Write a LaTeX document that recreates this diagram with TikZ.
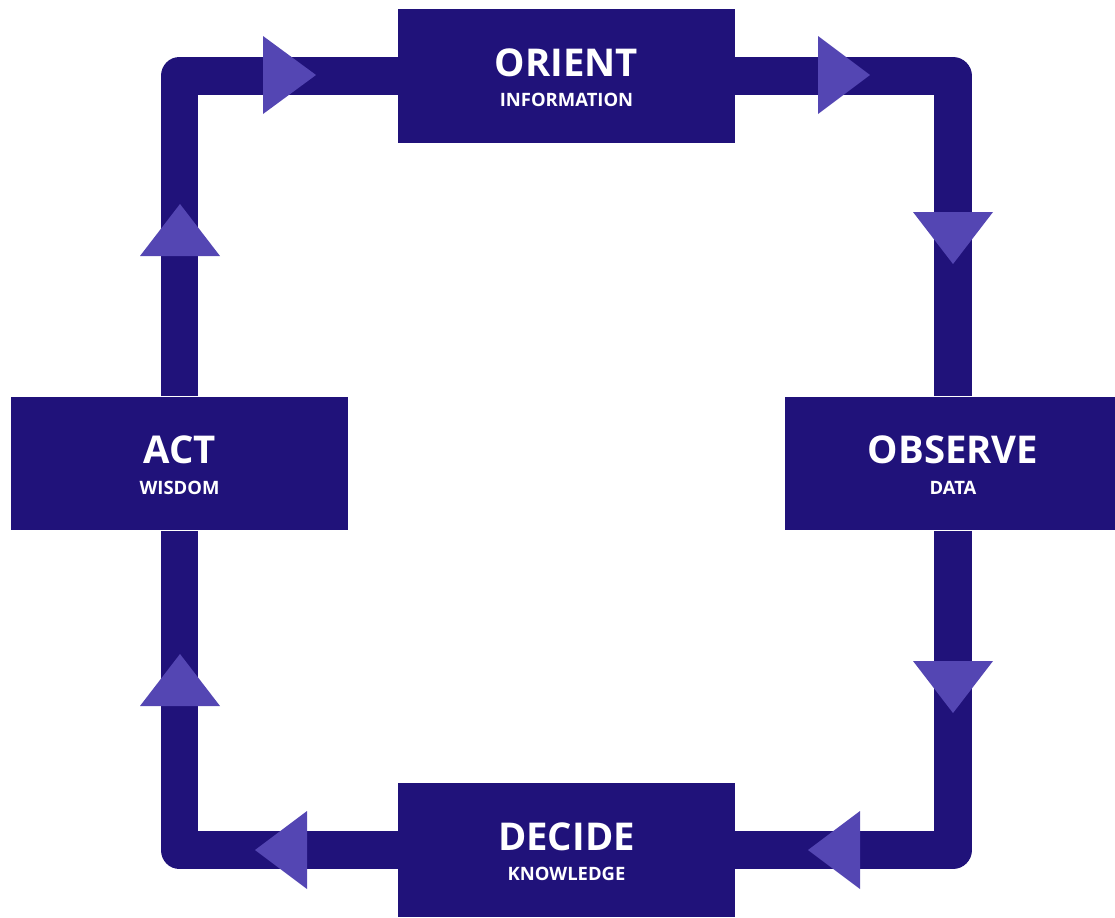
\documentclass[tikz,border=0pt]{standalone}
\usepackage{fontspec}
\setmainfont{Open Sans}
\usepackage{tikz}
\usetikzlibrary{positioning, backgrounds}
\definecolor{loopnavy}{HTML}{20127A}
\definecolor{tipviolet}{HTML}{5446B3}

\begin{document}
\begin{tikzpicture}[x=0.02cm, y=-0.02cm,
    stage/.style={fill=loopnavy, text=white, minimum width=6.74cm, minimum height=2.68cm, align=center, inner sep=0pt, font=\bfseries},
    loop/.style={draw=loopnavy, line width=0.76cm, line join=round},
    tip/.style={fill=tipviolet}
]
\useasboundingbox (0,0) rectangle (1115,917);

% Stages
\node[stage] (orient) at (566.5,76) {{\fontsize{21.8pt}{23pt}\selectfont ORIENT}\\[3.5pt]{\fontsize{10.5pt}{12pt}\selectfont\raisebox{-1.8pt}[0pt][0pt]{INFORMATION}}};
\node[stage] (observe) at (953,463.5) {{\fontsize{21.8pt}{23pt}\selectfont OBSERVE}\\[3.5pt]{\fontsize{10.5pt}{12pt}\selectfont\raisebox{-1.8pt}[0pt][0pt]{DATA}}};
\node[stage] (decide) at (566.5,850) {{\fontsize{21.8pt}{23pt}\selectfont DECIDE}\\[3.5pt]{\fontsize{10.5pt}{12pt}\selectfont\raisebox{-1.8pt}[0pt][0pt]{KNOWLEDGE}}};
\node[stage] (act) at (179.5,463.5) {{\fontsize{21.8pt}{23pt}\selectfont ACT}\\[3.5pt]{\fontsize{10.5pt}{12pt}\selectfont\raisebox{-1.8pt}[0pt][0pt]{WISDOM}}};

% Loop
\begin{scope}[on background layer]
\draw[loop] (orient.east) -| (observe.north);
\draw[loop] (observe.south) |- (decide.east);
\draw[loop] (decide.west) -| (act.south);
\draw[loop] (act.north) |- (orient.west);
\end{scope}

% Direction marks
\fill[tip] (263,36) -- (316,75) -- (263,114) -- cycle;
\fill[tip] (818,36) -- (870,75) -- (818,114) -- cycle;
\fill[tip] (913,212) -- (993,212) -- (953,264) -- cycle;
\fill[tip] (913,661) -- (993,661) -- (953,713) -- cycle;
\fill[tip] (307,811) -- (255,850) -- (307,889) -- cycle;
\fill[tip] (860,811) -- (808,850) -- (860,889) -- cycle;
\fill[tip] (140,256) -- (220,256) -- (180,204) -- cycle;
\fill[tip] (140,706) -- (220,706) -- (180,654) -- cycle;

\end{tikzpicture}
\end{document}
